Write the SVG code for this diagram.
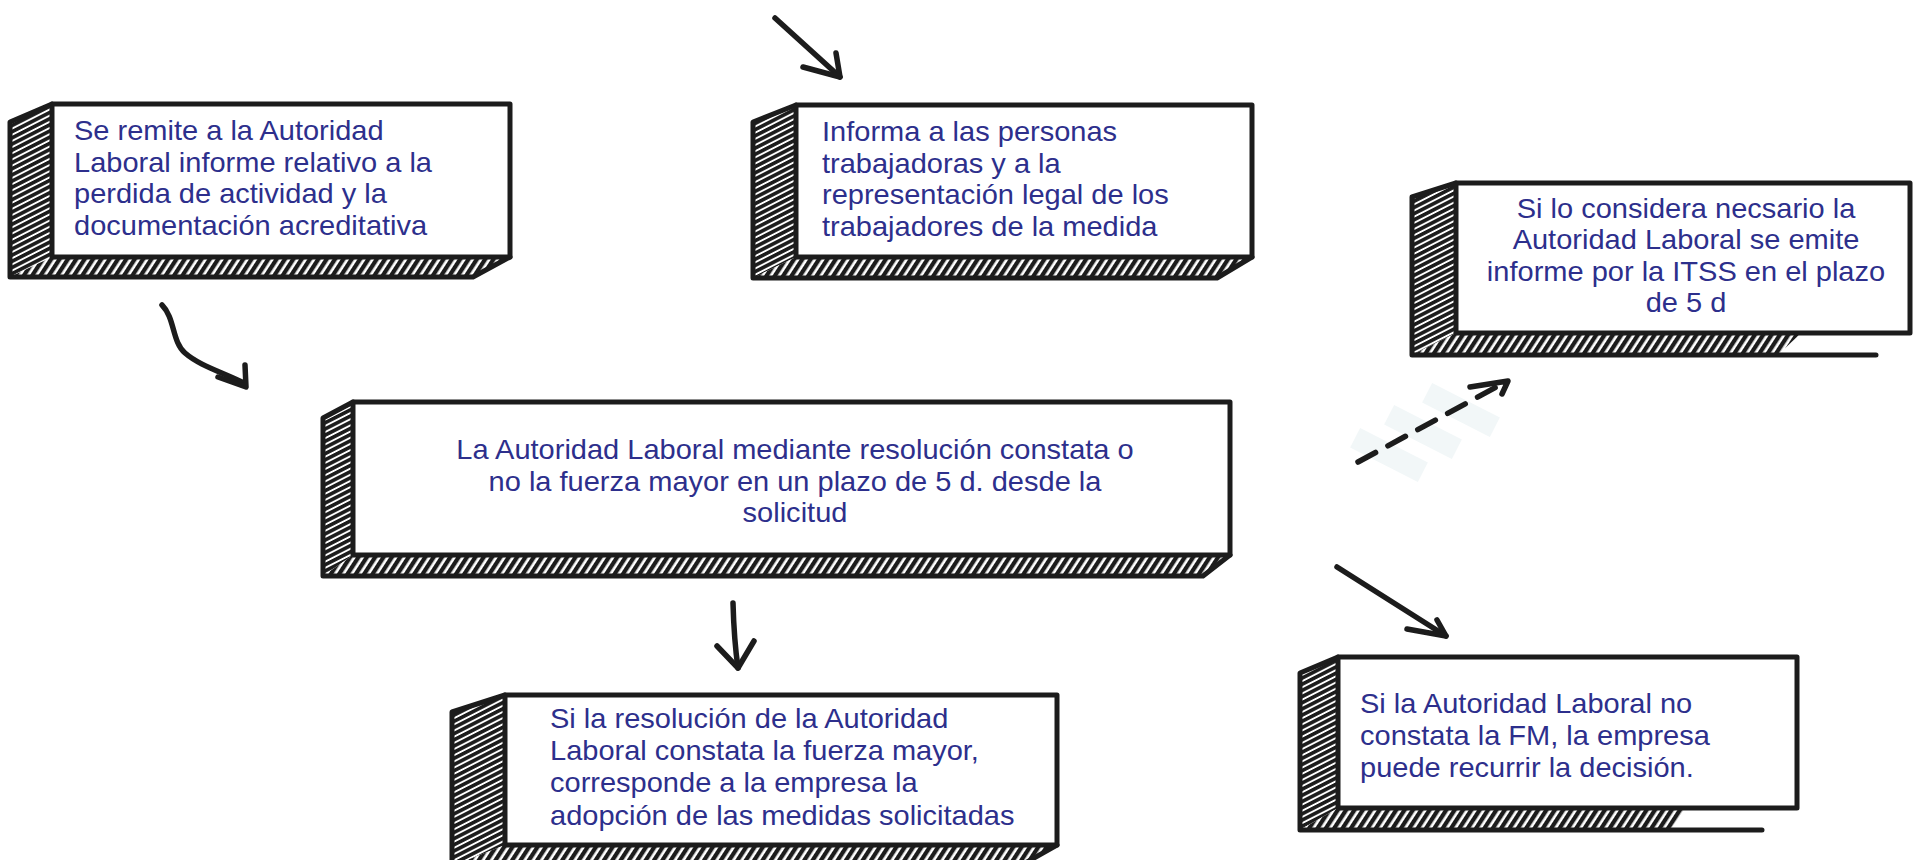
<svg xmlns="http://www.w3.org/2000/svg" width="1923" height="860" viewBox="0 0 1923 860">
<defs>
<style>
.t{font-family:"Liberation Sans",Arial,Helvetica,sans-serif;font-size:27px;fill:#2d2f8c}
.c{text-anchor:middle}
.front{fill:#fff;stroke:#1c1c1c;stroke-width:5;stroke-linejoin:round}
.side{fill:url(#hs)}
.bot{fill:url(#hb)}
.edge{fill:none;stroke:#1c1c1c;stroke-width:5;stroke-linejoin:round;stroke-linecap:round}
.arr{fill:none;stroke:#1c1c1c;stroke-width:5.5;stroke-linecap:round;stroke-linejoin:round}
.strip{fill:#f2f7f8}
</style>
<pattern id="hs" width="8" height="5.5" patternUnits="userSpaceOnUse" patternTransform="rotate(-27)">
<rect width="8" height="5.5" fill="#fff"/><rect width="8" height="3.6" fill="#1c1c1c"/>
</pattern>
<pattern id="hb" width="8" height="7" patternUnits="userSpaceOnUse" patternTransform="rotate(-57)">
<rect width="8" height="7" fill="#fff"/><rect width="8" height="4.3" fill="#1c1c1c"/>
</pattern>
</defs>
<rect width="1923" height="860" fill="#fff"/>

<g id="connectors">
<path class="arr" d="M775,18 L840,77"/>
<path class="arr" d="M803,67 L840,77 L836,53"/>
<path class="arr" d="M162,305 C175,318 172,342 185,353 C200,366 222,372 244,383"/>
<path class="arr" d="M218,377 L246,387 L245,365"/>
<rect class="strip" x="-38" y="-11" width="76" height="22" transform="translate(1389,455) rotate(27)"/>
<rect class="strip" x="-38" y="-11" width="76" height="22" transform="translate(1423,432) rotate(27)"/>
<rect class="strip" x="-38" y="-11" width="76" height="22" transform="translate(1461,410) rotate(27)"/>
<path class="arr" d="M1358,462 L1500,385" stroke-dasharray="20 14" stroke-linecap="butt" stroke-width="6"/>
<path class="arr" d="M1470,387 L1508,381 L1502,394"/>
<path class="arr" d="M733,603 Q734,640 738,668"/>
<path class="arr" d="M717,646 L738,668 L754,641"/>
<path class="arr" d="M1337,567 L1446,636"/>
<path class="arr" d="M1407,629 L1446,636 L1437,620"/>
</g>

<g id="n1">
<polygon class="side" points="52,104 10,122 10,277 52,257"/>
<polygon class="bot" points="52,257 10,277 473,277 510,257"/>
<path class="edge" d="M52,104 L10,122 L10,277 L473,277 L510,257"/>
<rect class="front" x="52" y="104" width="458" height="153"/>
<text class="t" transform="translate(74 0) scale(1.075 1)"><tspan x="0" y="140">Se remite a la Autoridad</tspan><tspan x="0" y="171.7">Laboral informe relativo a la</tspan><tspan x="0" y="203.3">perdida de actividad y la</tspan><tspan x="0" y="235">documentación acreditativa</tspan></text>
</g>

<g id="n2">
<polygon class="side" points="796,105 753,122 753,278 796,257"/>
<polygon class="bot" points="796,257 753,278 1217,278 1252,257"/>
<path class="edge" d="M796,105 L753,122 L753,278 L1217,278 L1252,257"/>
<rect class="front" x="796" y="105" width="456" height="152"/>
<text class="t" transform="translate(822 0) scale(1.075 1)"><tspan x="0" y="141.5">Informa a las personas</tspan><tspan x="0" y="173">trabajadoras y a la</tspan><tspan x="0" y="204.5">representación legal de los</tspan><tspan x="0" y="236.5">trabajadores de la medida</tspan></text>
</g>

<g id="n3">
<polygon class="side" points="1456,183 1412,197 1412,355 1456,333"/>
<polygon class="bot" points="1456,333 1412,355 1778,355 1801,333"/>
<path class="edge" d="M1456,183 L1412,197 L1412,355 L1876,355"/>
<rect class="front" x="1456" y="183" width="454" height="150"/>
<text class="t c" transform="translate(1686 0) scale(1.075 1)"><tspan x="0" y="218">Si lo considera necsario la</tspan><tspan x="0" y="249.5">Autoridad Laboral se emite</tspan><tspan x="0" y="281">informe por la ITSS en el plazo</tspan><tspan x="0" y="312.5">de 5 d</tspan></text>
</g>

<g id="n4">
<polygon class="side" points="353,402 323,418 323,576 353,555"/>
<polygon class="bot" points="353,555 323,576 1203,576 1230,555"/>
<path class="edge" d="M353,402 L323,418 L323,576 L1203,576 L1230,555"/>
<rect class="front" x="353" y="402" width="877" height="153"/>
<text class="t c" transform="translate(795 0) scale(1.075 1)"><tspan x="0" y="459.5">La Autoridad Laboral mediante resolución constata o</tspan><tspan x="0" y="491">no la fuerza mayor en un plazo de 5 d. desde la</tspan><tspan x="0" y="522.5">solicitud</tspan></text>
</g>

<g id="n5">
<polygon class="side" points="505,695 452,712 452,866 505,845"/>
<polygon class="bot" points="505,845 452,866 1020,866 1057,845"/>
<path class="edge" d="M505,695 L452,712 L452,866 L1020,866 L1057,845"/>
<rect class="front" x="505" y="695" width="552" height="150"/>
<text class="t" transform="translate(550 0) scale(1.075 1)"><tspan x="0" y="728.5">Si la resolución de la Autoridad</tspan><tspan x="0" y="760.5">Laboral constata la fuerza mayor,</tspan><tspan x="0" y="792.5">corresponde a la empresa la</tspan><tspan x="0" y="825">adopción de las medidas solicitadas</tspan></text>
</g>

<g id="n6">
<polygon class="side" points="1338,657 1300,673 1300,830 1338,808"/>
<polygon class="bot" points="1338,808 1300,830 1670,830 1686,808"/>
<path class="edge" d="M1338,657 L1300,673 L1300,830 L1762,830"/>
<rect class="front" x="1338" y="657" width="459" height="151"/>
<text class="t" transform="translate(1360 0) scale(1.075 1)"><tspan x="0" y="713">Si la Autoridad Laboral no</tspan><tspan x="0" y="745">constata la FM, la empresa</tspan><tspan x="0" y="777">puede recurrir la decisión.</tspan></text>
</g>
</svg>
